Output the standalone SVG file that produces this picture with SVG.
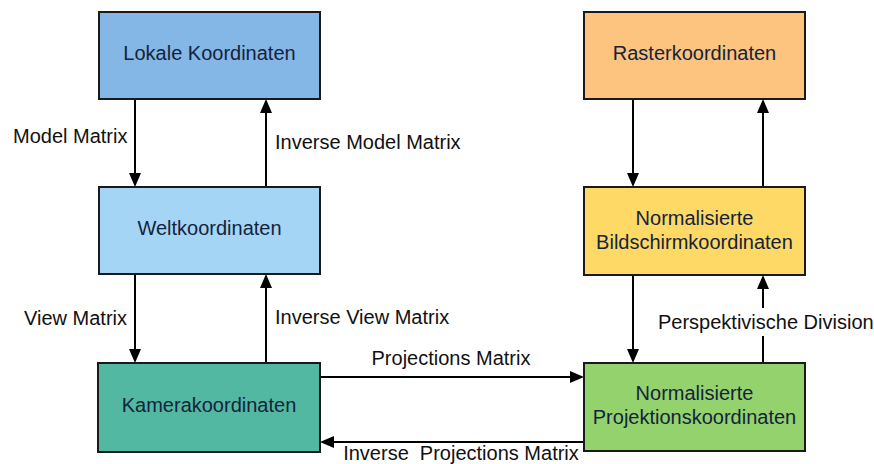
<svg xmlns="http://www.w3.org/2000/svg" width="874" height="464" viewBox="0 0 874 464">
<defs>
<style>
.box{stroke:#1a1a1a;stroke-width:2}
.nt{font-family:"Liberation Sans",Arial,sans-serif;font-size:20px;fill:#14233c;text-anchor:middle}
.el{font-family:"Liberation Sans",Arial,sans-serif;font-size:20px;fill:#111}
.c{stroke:#000;stroke-width:2;fill:none}
.h{fill:#000}
</style>
</defs>
<rect width="874" height="464" fill="#fff"/>
<g id="connectors">
<line class="c" x1="135" y1="99" x2="135" y2="174"/>
<path class="h" d="M129,173 L135,187 L141,173 z"/>
<line class="c" x1="266" y1="187" x2="266" y2="112"/>
<path class="h" d="M260,113 L266,99 L272,113 z"/>
<line class="c" x1="135" y1="274" x2="135" y2="350"/>
<path class="h" d="M129,349 L135,363 L141,349 z"/>
<line class="c" x1="266" y1="363" x2="266" y2="287"/>
<path class="h" d="M260,288 L266,274 L272,288 z"/>
<line class="c" x1="320" y1="377" x2="571" y2="377"/>
<path class="h" d="M570,371 L584,377 L570,383 z"/>
<line class="c" x1="584" y1="442" x2="333" y2="442"/>
<path class="h" d="M334,436 L320,442 L334,448 z"/>
<line class="c" x1="633" y1="99" x2="633" y2="174"/>
<path class="h" d="M627,173 L633,187 L639,173 z"/>
<line class="c" x1="763" y1="187" x2="763" y2="112"/>
<path class="h" d="M757,113 L763,99 L769,113 z"/>
<line class="c" x1="633" y1="275" x2="633" y2="350"/>
<path class="h" d="M627,349 L633,363 L639,349 z"/>
<line class="c" x1="763" y1="363" x2="763" y2="288"/>
<path class="h" d="M757,289 L763,275 L769,289 z"/>
<rect x="655" y="308" width="218" height="28" fill="#fff"/>
<text class="el" x="13" y="143">Model Matrix</text>
<text class="el" x="275" y="149">Inverse Model Matrix</text>
<text class="el" x="24" y="325">View Matrix</text>
<text class="el" x="275" y="324">Inverse View Matrix</text>
<text class="el" x="451" y="365" text-anchor="middle">Projections Matrix</text>
<text class="el" x="461" y="460" text-anchor="middle" xml:space="preserve">Inverse  Projections Matrix</text>
<text class="el" x="658" y="329">Perspektivische Division</text>
</g>
<g id="lokale">
<rect class="box" x="99" y="12" width="221" height="87" fill="#84b6e6"/>
<text class="nt" x="209.5" y="60">Lokale Koordinaten</text>
</g>
<g id="welt">
<rect class="box" x="99" y="187" width="221" height="87" fill="#a5d5f5"/>
<text class="nt" x="209.5" y="235">Weltkoordinaten</text>
</g>
<g id="kamera">
<rect class="box" x="98" y="363" width="222" height="89" fill="#52b8a2"/>
<text class="nt" x="209" y="412">Kamerakoordinaten</text>
</g>
<g id="raster">
<rect class="box" x="584" y="12" width="221" height="87" fill="#fcc47f"/>
<text class="nt" x="694.5" y="60">Rasterkoordinaten</text>
</g>
<g id="bildschirm">
<rect class="box" x="584" y="187" width="221" height="88" fill="#ffd966"/>
<text class="nt" x="694.5" y="225">Normalisierte</text>
<text class="nt" x="694.5" y="249">Bildschirmkoordinaten</text>
</g>
<g id="projektion">
<rect class="box" x="584" y="363" width="221" height="88" fill="#93d26c"/>
<text class="nt" x="694.5" y="400">Normalisierte</text>
<text class="nt" x="694.5" y="424">Projektionskoordinaten</text>
</g>
</svg>
